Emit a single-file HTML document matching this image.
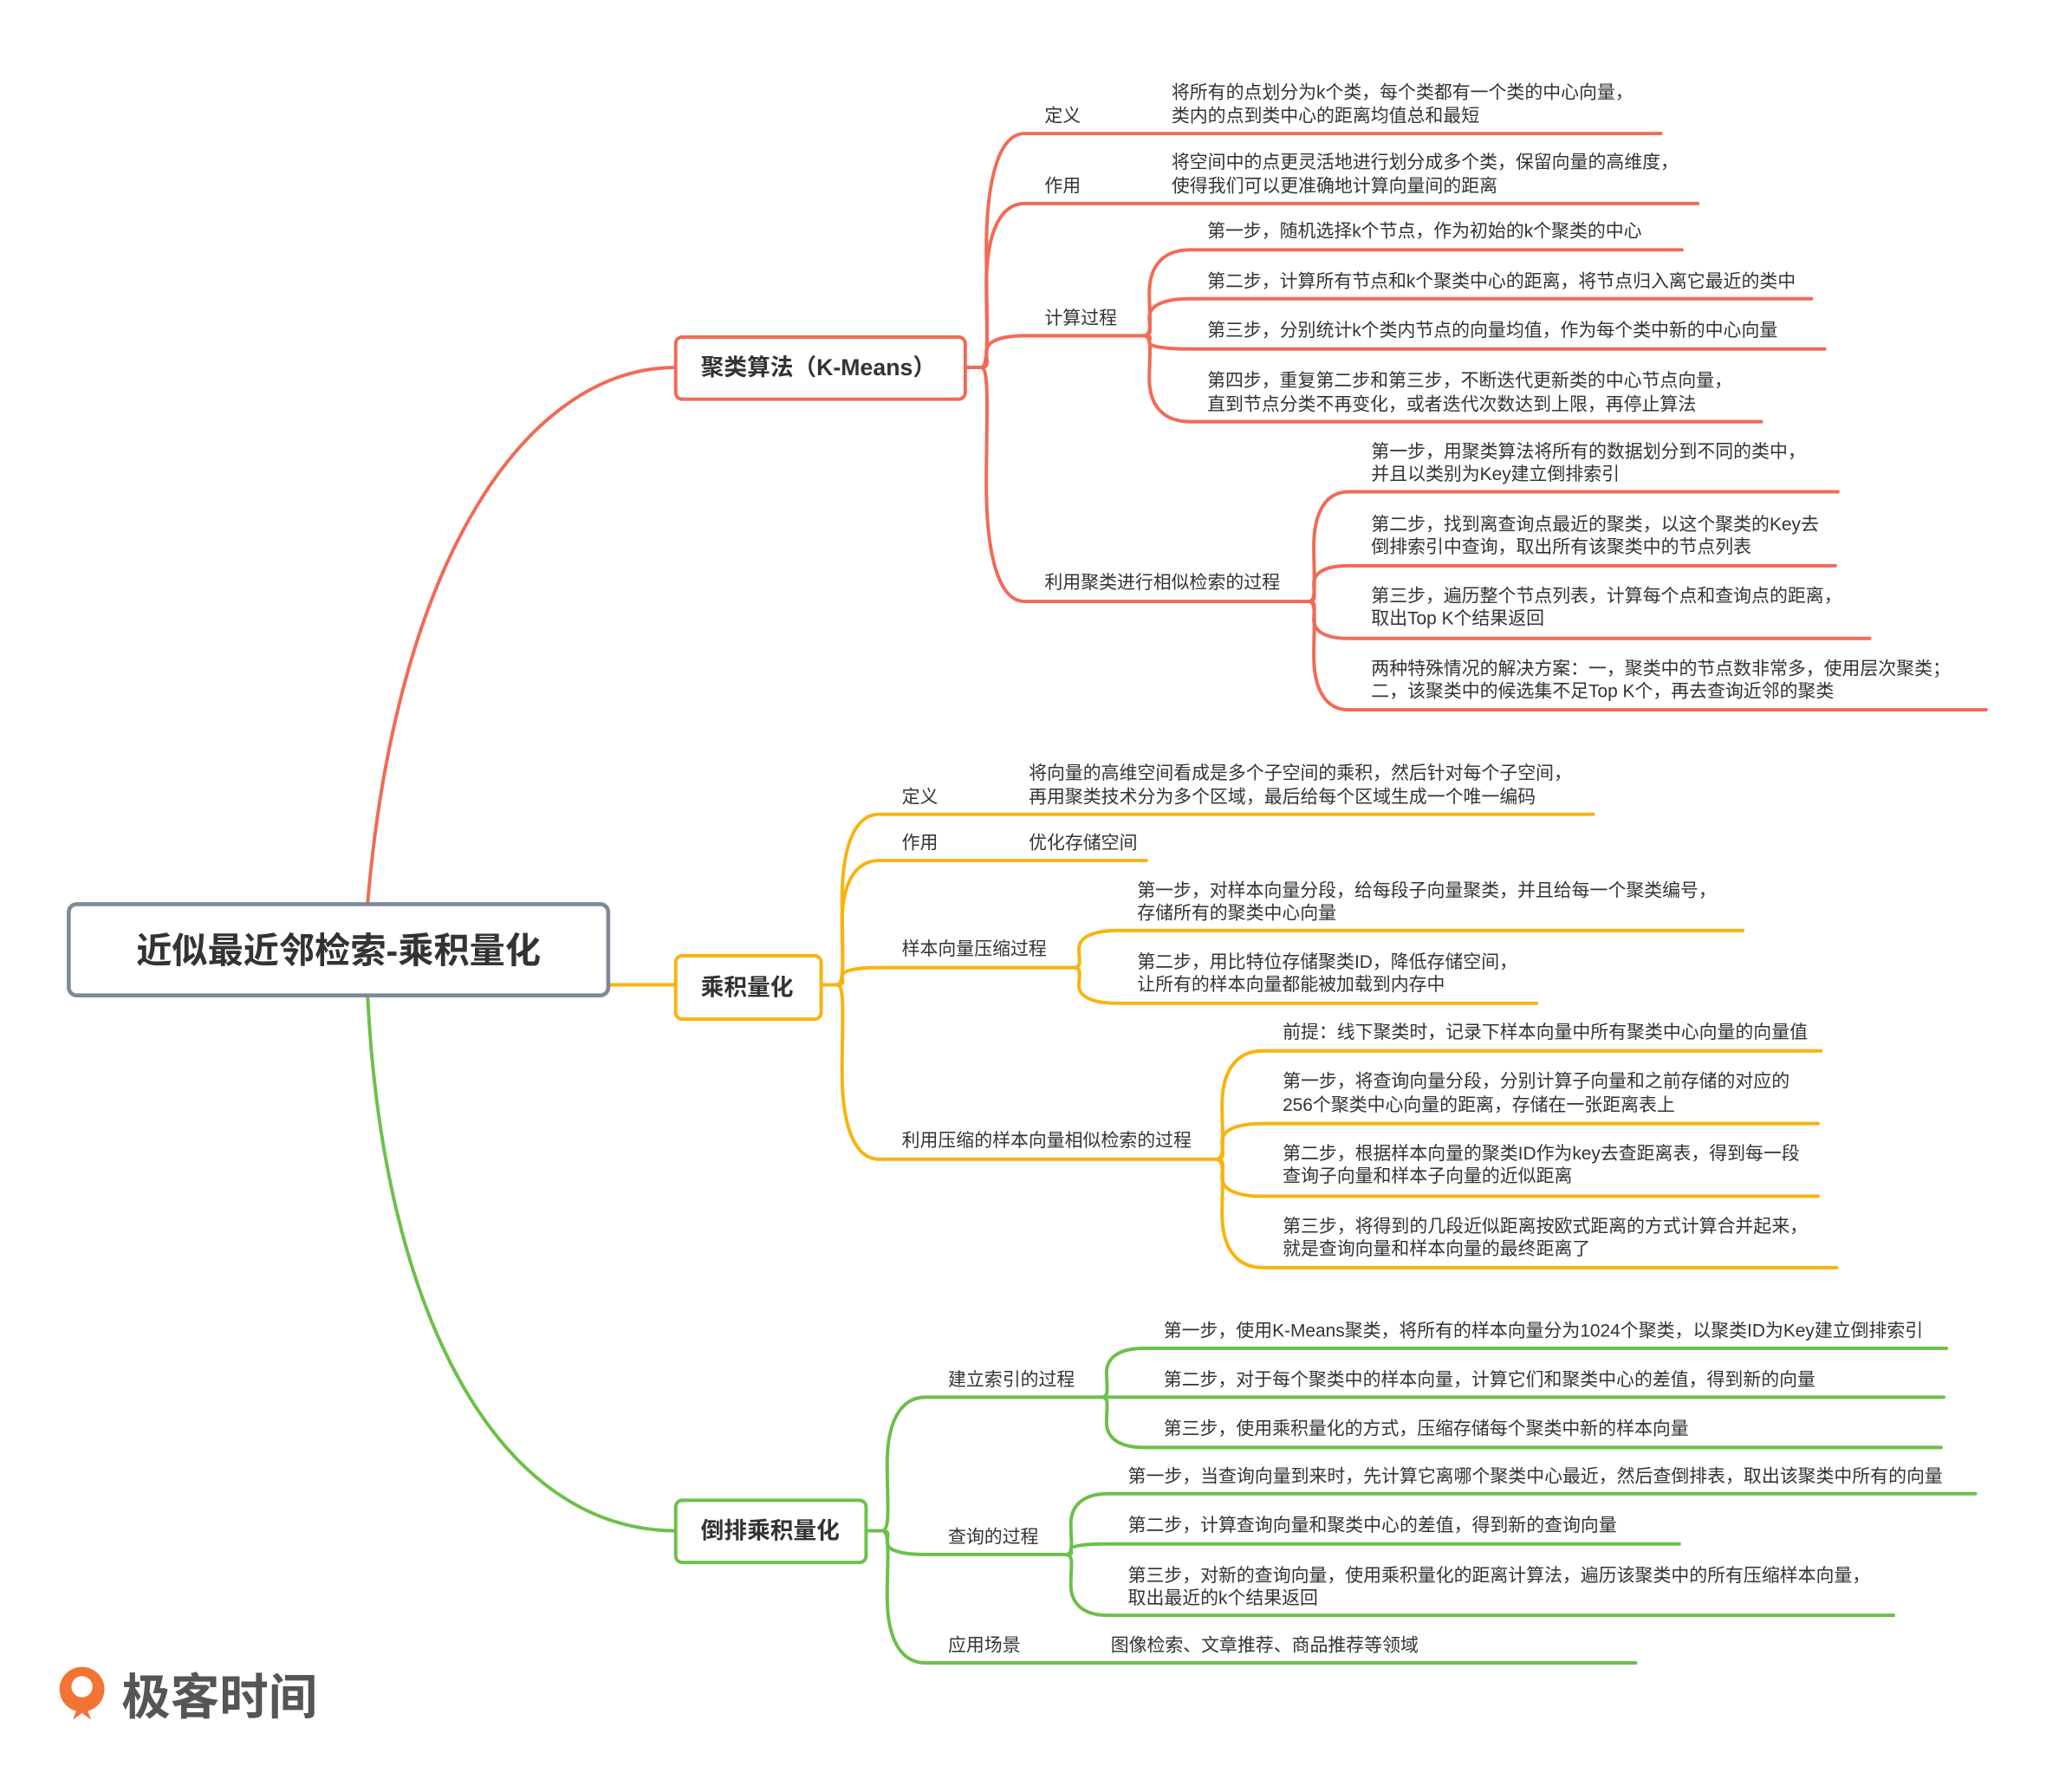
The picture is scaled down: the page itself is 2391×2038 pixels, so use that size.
<!DOCTYPE html>
<html><head><meta charset="utf-8"><style>
html,body{margin:0;padding:0;background:#fff;}
svg{display:block;}
text{font-family:"Liberation Sans","Noto Sans CJK SC",sans-serif;fill:#333;dominant-baseline:central;}
.t{font-size:13.7px;}
.b{font-weight:bold;}
</style></head><body>
<svg id="s" width="2391" height="2038" viewBox="0 0 1567 1336" preserveAspectRatio="none" xmlns="http://www.w3.org/2000/svg">
<g id="lines" fill="none" stroke-width="2.6" stroke-linecap="round"></g>
<path d="M278 684 C 300 420, 400 278, 511 278" fill="none" stroke="#f26a55" stroke-width="2.6"/>
<path d="M460 745 L511 745" fill="none" stroke="#f8b30e" stroke-width="2.6"/>
<path d="M278 753 C 290 1000, 380 1158, 511 1158" fill="none" stroke="#6cc04a" stroke-width="2.6"/>
<rect x="52" y="684" width="408" height="69" rx="6" fill="#fff" stroke="#7d8899" stroke-width="3"/>
<text x="256" y="719" text-anchor="middle" class="b" style="font-size:27px">近似最近邻检索-乘积量化</text>
<rect x="511" y="255" width="219" height="47" rx="5" fill="#fff" stroke="#f26a55" stroke-width="2.6"/>
<text x="530" y="278" class="b" style="font-size:17.5px">聚类算法（K-Means）</text>
<rect x="511" y="723" width="110" height="48" rx="5" fill="#fff" stroke="#f8b30e" stroke-width="2.6"/>
<text x="530" y="747" class="b" style="font-size:17.5px">乘积量化</text>
<rect x="511" y="1135" width="144" height="47" rx="5" fill="#fff" stroke="#6cc04a" stroke-width="2.6"/>
<text x="530" y="1158" class="b" style="font-size:17.5px">倒排乘积量化</text>

<g class="t">
<text x="790" y="88" class="t">定义</text>
<text x="886" y="70" class="t">将所有的点划分为k个类，每个类都有一个类的中心向量，</text>
<text x="886" y="88" class="t">类内的点到类中心的距离均值总和最短</text>
<text x="790" y="141" class="t">作用</text>
<text x="886" y="123" class="t">将空间中的点更灵活地进行划分成多个类，保留向量的高维度，</text>
<text x="886" y="141" class="t">使得我们可以更准确地计算向量间的距离</text>
<text x="790" y="241" class="t">计算过程</text>
<text x="913" y="175" class="t">第一步，随机选择k个节点，作为初始的k个聚类的中心</text>
<text x="913" y="213" class="t">第二步，计算所有节点和k个聚类中心的距离，将节点归入离它最近的类中</text>
<text x="913" y="250" class="t">第三步，分别统计k个类内节点的向量均值，作为每个类中新的中心向量</text>
<text x="913" y="288" class="t">第四步，重复第二步和第三步，不断迭代更新类的中心节点向量，</text>
<text x="913" y="306" class="t">直到节点分类不再变化，或者迭代次数达到上限，再停止算法</text>
<text x="790" y="441" class="t">利用聚类进行相似检索的过程</text>
<text x="1037" y="342" class="t">第一步，用聚类算法将所有的数据划分到不同的类中，</text>
<text x="1037" y="359" class="t">并且以类别为Key建立倒排索引</text>
<text x="1037" y="397" class="t">第二步，找到离查询点最近的聚类，以这个聚类的Key去</text>
<text x="1037" y="414" class="t">倒排索引中查询，取出所有该聚类中的节点列表</text>
<text x="1037" y="451" class="t">第三步，遍历整个节点列表，计算每个点和查询点的距离，</text>
<text x="1037" y="468" class="t">取出Top K个结果返回</text>
<text x="1037" y="506" class="t">两种特殊情况的解决方案：一，聚类中的节点数非常多，使用层次聚类；</text>
<text x="1037" y="523" class="t">二，该聚类中的候选集不足Top K个，再去查询近邻的聚类</text>
<text x="682" y="603" class="t">定义</text>
<text x="778" y="585" class="t">将向量的高维空间看成是多个子空间的乘积，然后针对每个子空间，</text>
<text x="778" y="603" class="t">再用聚类技术分为多个区域，最后给每个区域生成一个唯一编码</text>
<text x="682" y="638" class="t">作用</text>
<text x="778" y="638" class="t">优化存储空间</text>
<text x="682" y="718" class="t">样本向量压缩过程</text>
<text x="860" y="674" class="t">第一步，对样本向量分段，给每段子向量聚类，并且给每一个聚类编号，</text>
<text x="860" y="691" class="t">存储所有的聚类中心向量</text>
<text x="860" y="728" class="t">第二步，用比特位存储聚类ID，降低存储空间，</text>
<text x="860" y="745" class="t">让所有的样本向量都能被加载到内存中</text>
<text x="682" y="863" class="t">利用压缩的样本向量相似检索的过程</text>
<text x="970" y="781" class="t">前提：线下聚类时，记录下样本向量中所有聚类中心向量的向量值</text>
<text x="970" y="818" class="t">第一步，将查询向量分段，分别计算子向量和之前存储的对应的</text>
<text x="970" y="836" class="t">256个聚类中心向量的距离，存储在一张距离表上</text>
<text x="970" y="873" class="t">第二步，根据样本向量的聚类ID作为key去查距离表，得到每一段</text>
<text x="970" y="890" class="t">查询子向量和样本子向量的近似距离</text>
<text x="970" y="928" class="t">第三步，将得到的几段近似距离按欧式距离的方式计算合并起来，</text>
<text x="970" y="945" class="t">就是查询向量和样本向量的最终距离了</text>
<text x="717" y="1044" class="t">建立索引的过程</text>
<text x="880" y="1007" class="t">第一步，使用K-Means聚类，将所有的样本向量分为1024个聚类，以聚类ID为Key建立倒排索引</text>
<text x="880" y="1044" class="t">第二步，对于每个聚类中的样本向量，计算它们和聚类中心的差值，得到新的向量</text>
<text x="880" y="1081" class="t">第三步，使用乘积量化的方式，压缩存储每个聚类中新的样本向量</text>
<text x="717" y="1163" class="t">查询的过程</text>
<text x="853" y="1117" class="t">第一步，当查询向量到来时，先计算它离哪个聚类中心最近，然后查倒排表，取出该聚类中所有的向量</text>
<text x="853" y="1154" class="t">第二步，计算查询向量和聚类中心的差值，得到新的查询向量</text>
<text x="853" y="1192" class="t">第三步，对新的查询向量，使用乘积量化的距离计算法，遍历该聚类中的所有压缩样本向量，</text>
<text x="853" y="1209" class="t">取出最近的k个结果返回</text>
<text x="717" y="1245" class="t">应用场景</text>
<text x="840" y="1245" class="t">图像检索、文章推荐、商品推荐等领域</text>
</g>
<circle cx="62" cy="1278" r="17" fill="#f27435"/>
<circle cx="62" cy="1276" r="8" fill="#fff"/>
<path d="M62 1284 L55 1301 L62 1296 L69 1301 Z" fill="#f27435"/>
<text x="92" y="1284" style="font-size:37px;fill:#555;font-weight:bold">极客时间</text>
</svg>
<script>
var R="#f26a55",O="#f8b30e",G="#6cc04a";
var L=[
[730,278,742,775,1256,101,R],[730,278,742,775,1284,154,R],[730,278,742,775,865,254,R],[730,278,742,775,990,455,R],
[865,254,865,900,1272,189,R],[865,254,865,900,1370,226,R],[865,254,865,900,1380,264,R],[865,254,865,900,1332,319,R],
[990,455,990,1020,1390,372,R],[990,455,990,1020,1388,428,R],[990,455,990,1020,1414,483,R],[990,455,990,1020,1502,537,R],
[621,745,633,665,1205,616,O],[621,745,633,665,867,651,O],[621,745,633,665,812,732,O],[621,745,633,665,920,877,O],
[812,732,812,845,1318,704,O],[812,732,812,845,1162,759,O],
[920,877,920,955,1377,795,O],[920,877,920,955,1375,850,O],[920,877,920,955,1375,905,O],[920,877,920,955,1389,959,O],
[655,1158,667,700,833,1057,G],[655,1158,667,700,806,1176,G],[655,1158,667,700,1237,1258,G],
[833,1057,833,865,1472,1020,G],[833,1057,833,865,1470,1057,G],[833,1057,833,865,1468,1095,G],
[806,1176,806,838,1494,1130,G],[806,1176,806,838,1270,1168,G],[806,1176,806,838,1432,1222,G]
];
var g=document.getElementById("lines"),h="";
L.forEach(function(a){var bx=a[0],hy=a[1],hx=a[2],x0=a[3],x1=a[4],y=a[5],c=a[6];
var d=x0-hx,mx=hx+d*0.12,dy=y-hy;
var p="M"+bx+" "+hy+" L"+hx+" "+hy+" C"+(hx+d*0.2)+" "+hy+" "+mx+" "+(hy+dy*0.2)+" "+mx+" "+(hy+dy*0.5)+" C"+mx+" "+(y-dy*0.2)+" "+(hx+d*0.4)+" "+y+" "+x0+" "+y+" L"+x1+" "+y;
h+='<path d="'+p+'" stroke="'+c+'"/>';});
g.innerHTML=h;
</script>
</body></html>
